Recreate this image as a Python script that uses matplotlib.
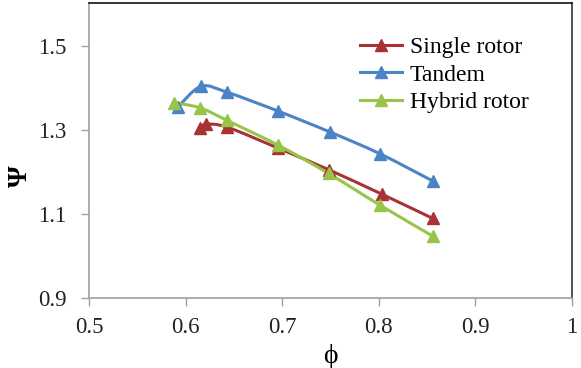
import numpy as np
import matplotlib
matplotlib.use("Agg")
import matplotlib.pyplot as plt
from matplotlib.path import Path
from matplotlib.patches import PathPatch
from matplotlib.lines import Line2D

plt.rcParams['font.family'] = ['Liberation Serif', 'DejaVu Serif']

single_phi = [0.615, 0.621, 0.643, 0.696, 0.748, 0.803, 0.856]
single_psi = [1.303, 1.313, 1.306, 1.256, 1.205, 1.147, 1.089]
tandem_phi = [0.592, 0.616, 0.643, 0.696, 0.749, 0.801, 0.856]
tandem_psi = [1.354, 1.403, 1.389, 1.344, 1.295, 1.243, 1.178]
hybrid_phi = [0.588, 0.615, 0.643, 0.696, 0.748, 0.801, 0.856]
hybrid_psi = [1.364, 1.352, 1.322, 1.263, 1.196, 1.121, 1.047]

labels = ['Single rotor', 'Tandem', 'Hybrid rotor']
colors = ['#A83236', '#4A83C6', '#98C449']
x_ticks = [0.5, 0.6, 0.7, 0.8, 0.9, 1.0]
x_ticklabels = ['0.5', '0.6', '0.7', '0.8', '0.9', '1']
y_ticks = [0.9, 1.1, 1.3, 1.5]
y_ticklabels = ['0.9', '1.1', '1.3', '1.5']

fig = plt.figure(figsize=(5.81, 3.68), dpi=100)
ax = fig.add_axes([0.1532, 0.1902, 0.8313, 0.8003])
ax.set_xlim(0.5, 1.0)
ax.set_ylim(0.9, 1.6)


def smooth_path(xs, ys, ax):
    # Excel-like smoothed line: cubic Bezier segments in display space
    pts = ax.transData.transform(np.column_stack([xs, ys]))
    n = len(pts)
    verts = [pts[0]]
    codes = [Path.MOVETO]
    for i in range(n - 1):
        p0 = pts[i - 1] if i > 0 else pts[i]
        p1 = pts[i]
        p2 = pts[i + 1]
        p3 = pts[i + 2] if i + 2 < n else pts[i + 1]
        c1 = p1 + (p2 - p0) / 6.0
        c2 = p2 - (p3 - p1) / 6.0
        verts += [c1, c2, p2]
        codes += [Path.CURVE4] * 3
    return Path(ax.transData.inverted().transform(np.array(verts)), codes)


handles = []
for xs, ys, c, lab in zip([single_phi, tandem_phi, hybrid_phi],
                          [single_psi, tandem_psi, hybrid_psi], colors, labels):
    p = smooth_path(xs, ys, ax)
    ax.add_patch(PathPatch(p, facecolor='none', edgecolor=c, lw=2.2, zorder=3))
    ax.plot(xs, ys, linestyle='none', marker='^', markersize=9, color=c, zorder=4)
    handles.append(Line2D([], [], color=c, lw=2.2, marker='^', markersize=9))

ax.set_xticks(x_ticks)
ax.set_xticklabels(x_ticklabels)
ax.set_yticks(y_ticks)
ax.set_yticklabels(y_ticklabels)
ax.tick_params(axis='both', direction='out', length=6, width=1, color='#A0A0A0',
               labelsize=16.5, labelcolor='#222222')
ax.tick_params(axis='y', pad=10)
ax.tick_params(axis='x', pad=8)

ax.spines['left'].set_color('#A0A0A0')
ax.spines['bottom'].set_color('#A0A0A0')
ax.spines['top'].set_color('#111111')
ax.spines['right'].set_color('#333333')
for s in ax.spines.values():
    s.set_linewidth(1.2)

ax.set_xlabel('ϕ', fontsize=20, labelpad=4)
fig.text(20 / 581, 1 - 176 / 368, 'Ψ', fontsize=20, fontweight='bold',
         rotation=90, ha='center', va='center')

ax.legend(handles, labels, loc='upper left', bbox_to_anchor=(0.561, 0.887),
          frameon=False, fontsize=17, handlelength=1.8, handletextpad=0.3,
          labelspacing=0.25, borderaxespad=0, borderpad=0)

fig.savefig('out.png', dpi=100)
